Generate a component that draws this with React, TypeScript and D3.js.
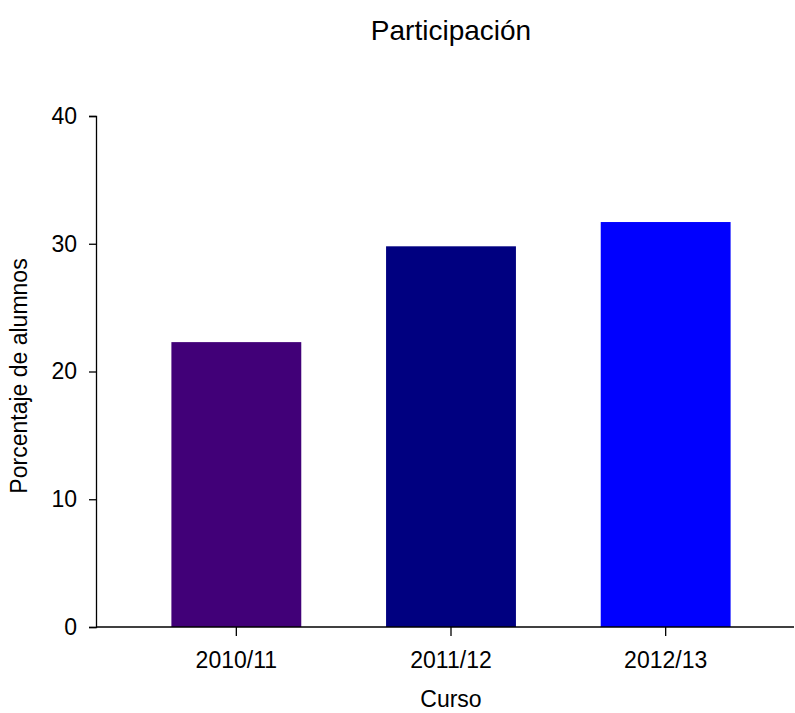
import * as d3 from "d3";
import { useEffect, useRef } from "react";

const cursos = ["2010/11", "2011/12", "2012/13"];
const porcentajes = [22.3, 29.8, 31.7];
const colores = ["#410078", "#000080", "#0000ff"];
const yTicks = [0, 10, 20, 30, 40];

const W = 795;
const H = 713;

export default function App() {
	const svgRef = useRef<SVGSVGElement>(null);

	useEffect(() => {
		if (!svgRef.current) return;
		const svg = d3.select(svgRef.current);
		svg.selectAll("*").remove();

		const font = "'Liberation Sans', Arial, sans-serif";
		const axisLeftX = 96;
		const axisBottomY = 627;

		const x = d3
			.scaleBand()
			.domain(cursos)
			.range([129, 773])
			.paddingInner(0.395)
			.paddingOuter(0.395 / 2);

		const y = d3.scaleLinear().domain([0, 40]).range([axisBottomY, 116]);

		// Bars
		svg
			.selectAll("rect.bar")
			.data(porcentajes)
			.enter()
			.append("rect")
			.attr("class", "bar")
			.attr("x", (_, i) => x(cursos[i]) ?? 0)
			.attr("y", (d) => y(d))
			.attr("width", x.bandwidth())
			.attr("height", (d) => axisBottomY - y(d))
			.attr("fill", (_, i) => colores[i]);

		// Y axis
		const yAxis = svg
			.append("g")
			.attr("transform", `translate(${axisLeftX},0)`)
			.call(d3.axisLeft(y).tickValues(yTicks).tickSize(7).tickPadding(12));
		yAxis.select(".domain").attr("stroke", "#000").attr("stroke-width", 1.3);
		yAxis.selectAll("line").attr("stroke", "#000").attr("stroke-width", 1.3);
		yAxis
			.selectAll("text")
			.style("font-family", font)
			.style("font-size", "23px")
			.attr("fill", "#000");

		// X axis line
		svg
			.append("line")
			.attr("x1", axisLeftX)
			.attr("x2", 794)
			.attr("y1", axisBottomY)
			.attr("y2", axisBottomY)
			.attr("stroke", "#000")
			.attr("stroke-width", 1.5);

		const xAxis = svg
			.append("g")
			.attr("transform", `translate(0,${axisBottomY})`)
			.call(d3.axisBottom(x).tickSize(9).tickPadding(16));
		xAxis.select(".domain").remove();
		xAxis.selectAll("line").attr("stroke", "#000").attr("stroke-width", 1.3);
		xAxis
			.selectAll("text")
			.style("font-family", font)
			.style("font-size", "23px")
			.attr("fill", "#000");

		// Title
		svg
			.append("text")
			.attr("x", 451)
			.attr("y", 40)
			.attr("text-anchor", "middle")
			.style("font-family", font)
			.style("font-size", "28px")
			.text("Participación");

		// Axis titles
		svg
			.append("text")
			.attr("x", 451)
			.attr("y", 707)
			.attr("text-anchor", "middle")
			.style("font-family", font)
			.style("font-size", "23px")
			.text("Curso");

		svg
			.append("text")
			.attr("transform", `translate(27,376) rotate(-90)`)
			.attr("text-anchor", "middle")
			.style("font-family", font)
			.style("font-size", "23px")
			.text("Porcentaje de alumnos");
	}, []);

	return (
		<svg
			ref={svgRef}
			width={W}
			height={H}
			style={{ position: "absolute", left: 0, top: 0, background: "#fff" }}
		/>
	);
}
